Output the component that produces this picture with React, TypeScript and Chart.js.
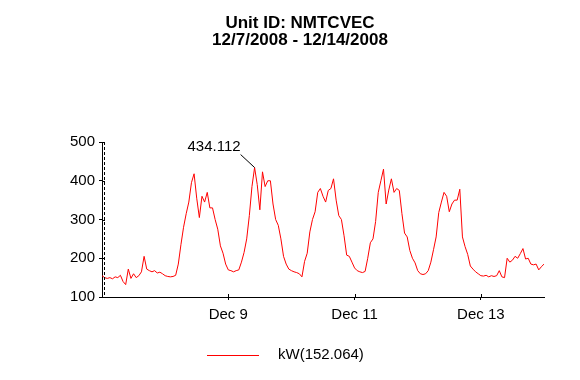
import React, { useEffect, useRef } from 'react';
import { Chart, registerables } from 'chart.js';

Chart.register(...registerables);

const TITLE_LINES = ['Unit ID: NMTCVEC', '12/7/2008 - 12/14/2008'];
const SERIES_LABEL = 'kW(152.064)';
const PEAK_LABEL = '434.112';

// hourly kW readings, 00:00 .. 23:00 of each day
const DEC7 = [155, 150, 148, 150, 147, 152, 150, 156, 140, 132, 172, 148, 160, 150, 155, 165, 205, 172, 168, 165, 168, 162, 164, 160];
const DEC8 = [155, 153, 152, 153, 156, 185, 235, 280, 315, 345, 395, 418, 355, 305, 360, 345, 370, 330, 330, 300, 275, 232, 213, 185];
const DEC9 = [170, 168, 165, 168, 170, 190, 215, 250, 310, 385, 434.112, 390, 325, 423, 385, 400, 400, 340, 300, 285, 250, 205, 185, 172];
const DEC10 = [168, 165, 163, 160, 152, 192, 213, 268, 300, 320, 370, 380, 360, 345, 375, 380, 405, 350, 310, 300, 258, 208, 205, 190];
const DEC11 = [175, 168, 165, 163, 166, 200, 240, 250, 295, 370, 400, 430, 340, 376, 405, 370, 380, 375, 315, 265, 255, 220, 200, 188];
const DEC12 = [168, 160, 158, 160, 168, 190, 222, 255, 318, 345, 370, 360, 320, 340, 350, 350, 378, 255, 230, 210, 180, 172, 165, 160];
const DEC13 = [155, 154, 156, 152, 155, 153, 155, 168, 152, 150, 200, 190, 195, 205, 200, 212, 225, 198, 200, 185, 183, 185, 170, 178];
const DEC14 = [185];

const X_MAX_HOURS = 168;
const X_TICK_HOURS = [48, 96, 144];
const X_TICK_LABELS = ['Dec 9', 'Dec 11', 'Dec 13'];
const Y_MIN = 100;
const Y_MAX = 500;
const Y_STEP = 50;
const Y_LABEL_STEP = 100;

const KW = [...DEC7, ...DEC8, ...DEC9, ...DEC10, ...DEC11, ...DEC12, ...DEC13, ...DEC14];

const FONT = '"Liberation Sans", Arial, sans-serif';

const decorPlugin = {
  id: 'decor',
  afterDraw(chart: any) {
    const { ctx, chartArea, scales } = chart;
    const x = scales.x;
    const y = scales.y;
    ctx.save();
    // title
    ctx.fillStyle = '#000';
    ctx.textAlign = 'center';
    ctx.textBaseline = 'alphabetic';
    ctx.font = 'bold 17px ' + FONT;
    ctx.fillText(TITLE_LINES[0], 300, 28);
    ctx.fillText(TITLE_LINES[1], 300, 45);

    // inner parts of ticks
    ctx.strokeStyle = '#000';
    ctx.lineWidth = 1;
    ctx.beginPath();
    y.ticks.forEach((t: any) => {
      const py = Math.round(y.getPixelForValue(t.value)) + 0.5;
      ctx.moveTo(chartArea.left, py);
      ctx.lineTo(chartArea.left + 3, py);
    });
    X_TICK_HOURS.forEach((h) => {
      const px = Math.round(x.getPixelForValue(h)) + 0.5;
      ctx.moveTo(px, chartArea.bottom);
      ctx.lineTo(px, chartArea.bottom - 3);
    });
    ctx.stroke();

    // dashed marker next to the y axis
    ctx.setLineDash([3, 2]);
    ctx.beginPath();
    ctx.moveTo(chartArea.left + 2.5, chartArea.top);
    ctx.lineTo(chartArea.left + 2.5, chartArea.bottom);
    ctx.stroke();
    ctx.setLineDash([]);

    // peak annotation
    const data = chart.data.datasets[0].data as any[];
    let pi = 0;
    data.forEach((d, i) => { if (d.y > data[pi].y) pi = i; });
    const ppx = x.getPixelForValue(data[pi].x);
    const ppy = y.getPixelForValue(data[pi].y);
    ctx.beginPath();
    ctx.moveTo(ppx, ppy);
    ctx.lineTo(ppx - 14, ppy - 13);
    ctx.stroke();
    ctx.font = '15px ' + FONT;
    ctx.textAlign = 'right';
    ctx.fillText(PEAK_LABEL, ppx - 14, ppy - 17);

    // legend
    ctx.strokeStyle = '#FF0000';
    ctx.beginPath();
    ctx.moveTo(207, 355.5);
    ctx.lineTo(259, 355.5);
    ctx.stroke();
    ctx.fillStyle = '#000';
    ctx.textAlign = 'left';
    ctx.textBaseline = 'middle';
    ctx.fillText(chart.data.datasets[0].label, 278, 355);
    ctx.restore();
  },
};

export default function App() {
  const ref = useRef<HTMLCanvasElement>(null);
  useEffect(() => {
    document.body.style.margin = '0';
    const chart = new Chart(ref.current!, {
      type: 'line',
      data: {
        datasets: [
          {
            label: SERIES_LABEL,
            data: KW.map((v, i) => ({ x: i, y: v })),
            borderColor: '#FF0000',
            borderWidth: 1,
            pointRadius: 0,
            tension: 0,
          },
        ],
      },
      options: {
        animation: false,
        responsive: false,
        layout: { padding: { left: 0, right: 36, top: 142, bottom: 0 } },
        plugins: { legend: { display: false }, title: { display: false }, tooltip: { enabled: false } },
        scales: {
          x: {
            type: 'linear',
            min: 0,
            max: X_MAX_HOURS,
            afterBuildTicks: (s: any) => {
              s.ticks = X_TICK_HOURS.map((v) => ({ value: v }));
            },
            afterFit: (s: any) => {
              s.height = 83;
            },
            ticks: {
              autoSkip: false,
              maxRotation: 0,
              padding: 6,
              color: '#000',
              font: { family: FONT, size: 15 },
              callback: (v: any) => {
                const i = X_TICK_HOURS.indexOf(Number(v));
                return i >= 0 ? X_TICK_LABELS[i] : '';
              },
            },
            grid: { display: true, drawOnChartArea: false, tickLength: 3, color: '#000' },
            border: { color: '#000', width: 1 },
          },
          y: {
            min: Y_MIN,
            max: Y_MAX,
            afterFit: (s: any) => {
              s.width = 102;
            },
            ticks: {
              stepSize: Y_STEP,
              padding: 4,
              color: '#000',
              font: { family: FONT, size: 15 },
              callback: (v: any) => (Number(v) % Y_LABEL_STEP === 0 ? String(v) : ''),
            },
            grid: { display: true, drawOnChartArea: false, tickLength: 3, color: '#000' },
            border: { color: '#000', width: 1 },
          },
        },
      },
      plugins: [decorPlugin],
    });
    return () => chart.destroy();
  }, []);
  return (
    <div style={{ width: 580, height: 380, position: 'relative', background: '#fff' }}>
      <canvas ref={ref} width={580} height={380} style={{ display: 'block' }} />
    </div>
  );
}
